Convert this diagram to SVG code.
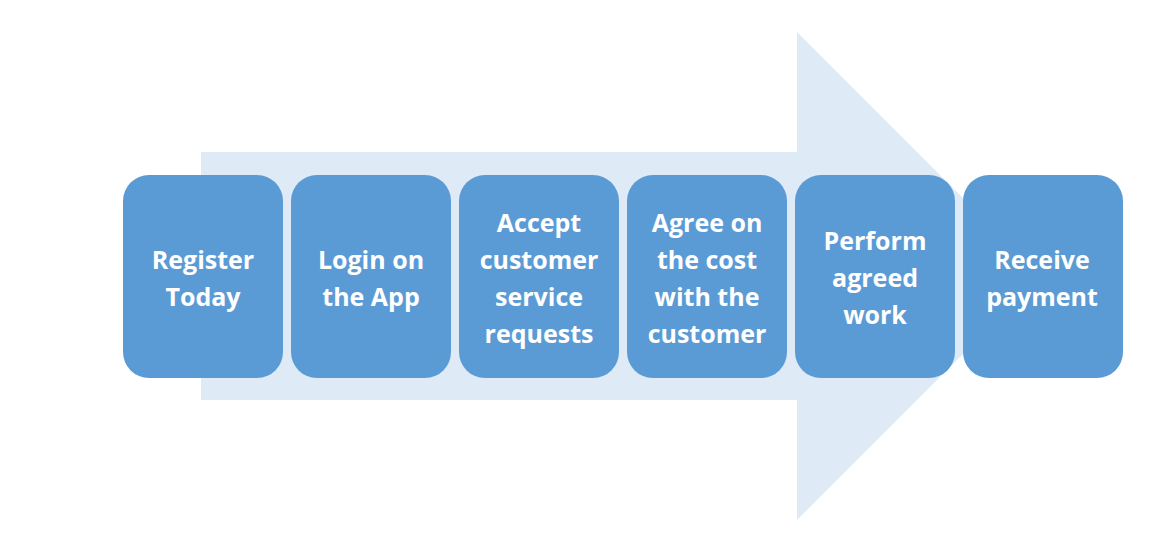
<svg xmlns="http://www.w3.org/2000/svg" width="1158" height="544" viewBox="0 0 1158 544">
<style>
.box{fill:#5B9BD5;}
.t{fill:#FFFFFF;font-family:"Open Sans","Liberation Sans",sans-serif;font-weight:bold;font-size:25px;text-anchor:middle;}
</style>
<rect width="1158" height="544" fill="#FFFFFF"/>
<g id="arrow">
<polygon points="201,152 797,152 797,32 1041,276 797,520 797,400 201,400" fill="#DEEAF6"/>
</g>
<g id="connectors"></g>
<g id="n1"><rect class="box" x="123" y="175" width="160" height="203" rx="26"/>
<text class="t" x="203" y="269">Register</text><text class="t" x="203" y="306">Today</text></g>
<g id="n2"><rect class="box" x="291" y="175" width="160" height="203" rx="26"/>
<text class="t" x="371" y="269">Login on</text><text class="t" x="371" y="306">the App</text></g>
<g id="n3"><rect class="box" x="459" y="175" width="160" height="203" rx="26"/>
<text class="t" x="539" y="232">Accept</text><text class="t" x="539" y="269">customer</text><text class="t" x="539" y="306">service</text><text class="t" x="539" y="343">requests</text></g>
<g id="n4"><rect class="box" x="627" y="175" width="160" height="203" rx="26"/>
<text class="t" x="707" y="232">Agree on</text><text class="t" x="707" y="269">the cost</text><text class="t" x="707" y="306">with the</text><text class="t" x="707" y="343">customer</text></g>
<g id="n5"><rect class="box" x="795" y="175" width="160" height="203" rx="26"/>
<text class="t" x="875" y="250">Perform</text><text class="t" x="875" y="287">agreed</text><text class="t" x="875" y="324">work</text></g>
<g id="n6"><rect class="box" x="963" y="175" width="160" height="203" rx="26"/>
<text class="t" x="1042" y="269">Receive</text><text class="t" x="1042" y="306">payment</text></g>
</svg>
